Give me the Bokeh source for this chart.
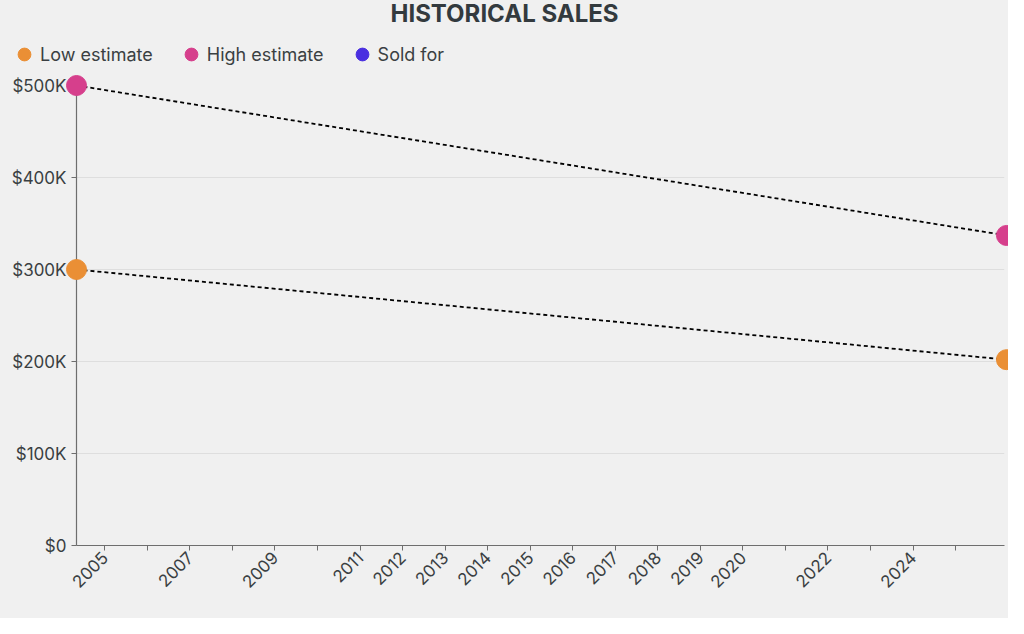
import math
from bokeh.plotting import figure
from bokeh.layouts import column
from bokeh.models import (FixedTicker, Legend, LegendItem, Label, CustomJSTickFormatter,
                          Range1d, ColumnDataSource)
from bokeh.embed import file_html
from bokeh.resources import INLINE

# ---- data ----
years = [2004.335, 2026.196]
low_estimate = [300000, 202000]
high_estimate = [500000, 337000]
sold_years = []          # no sale recorded
sold_for = []
series_names = ["Low estimate", "High estimate", "Sold for"]
x_ticks = list(range(2005, 2026))
x_tick_labels = {2005: "2005", 2006: "", 2007: "2007", 2008: "", 2009: "2009", 2010: "",
                 2011: "2011", 2012: "2012", 2013: "2013", 2014: "2014", 2015: "2015",
                 2016: "2016", 2017: "2017", 2018: "2018", 2019: "2019", 2020: "2020",
                 2021: "", 2022: "2022", 2023: "", 2024: "2024", 2025: ""}
y_ticks = [0, 100000, 200000, 300000, 400000, 500000]
x_end = 2026.15
title_text = "HISTORICAL SALES"

BG = "#f0f0f0"
TXT = "#3a3f42"
FONT = "Inter"
COLORS = ["#ea8f35", "#d63f8c", "#4a2fe0"]

W, H = 1008, 618
HEAD_H = 73
MAIN_H = H - HEAD_H

# ---------------- header: title + legend ----------------
head = figure(width=W, height=HEAD_H, output_backend="svg", toolbar_location=None,
              x_range=Range1d(0, 1), y_range=Range1d(0, 1),
              x_axis_type=None, y_axis_type=None,
              background_fill_color=BG, border_fill_color=BG,
              min_border=0, min_border_left=0, min_border_right=0,
              min_border_top=0, min_border_bottom=0)
head.outline_line_color = None
head.grid.visible = False
head.frame_align = False

legend_items = []
for name, col in zip(series_names, COLORS):
    r = head.scatter(x=[float("nan")], y=[float("nan")], size=13,
                     fill_color=col, line_color=col)
    legend_items.append(LegendItem(label=name, renderers=[r]))

legend = Legend(items=legend_items, orientation="horizontal", location=(8, 3),
                background_fill_alpha=0, border_line_color=None,
                label_text_font=FONT, label_text_font_size="18px", label_text_color=TXT,
                glyph_width=32, glyph_height=32, label_standoff=-13, spacing=22,
                padding=0, margin=0)
head.add_layout(legend, "center")

title = Label(x=504, y=HEAD_H - 13, x_units="screen", y_units="screen",
              text=title_text, text_align="center", text_baseline="middle",
              text_font=FONT, text_font_size="24px", text_font_style="bold",
              text_color="#333a3e")
head.add_layout(title)

# ---------------- main chart ----------------
p = figure(width=W, height=MAIN_H, output_backend="svg", toolbar_location=None,
           x_range=Range1d(years[0], x_end), y_range=Range1d(y_ticks[0], y_ticks[-1]),
           background_fill_color=BG, border_fill_color=BG,
           min_border_left=76, min_border_right=4, min_border_top=12, min_border_bottom=73)
p.outline_line_color = None
p.frame_align = False

src_low = ColumnDataSource(dict(x=years, y=low_estimate))
src_high = ColumnDataSource(dict(x=years, y=high_estimate))
src_sold = ColumnDataSource(dict(x=sold_years, y=sold_for))

p.line("x", "y", source=src_low, line_color="black", line_width=1.8, line_dash="4 3")
p.line("x", "y", source=src_high, line_color="black", line_width=1.8, line_dash="4 3")
for src, col in zip([src_low, src_high, src_sold], COLORS):
    p.scatter("x", "y", source=src, size=20, fill_color=col, line_color=col, level="overlay")

p.xaxis.ticker = FixedTicker(ticks=x_ticks)
p.xaxis.major_label_overrides = {k: v for k, v in x_tick_labels.items()}
p.xaxis.major_label_orientation = math.pi / 4
p.yaxis.ticker = FixedTicker(ticks=y_ticks)
p.yaxis.formatter = CustomJSTickFormatter(code="return tick == 0 ? '$0' : '$' + (tick/1000) + 'K';")
for ax in (p.xaxis, p.yaxis):
    ax.axis_line_color = "#6e6e6e"
    ax.axis_line_width = 1.2
    ax.major_tick_line_color = "#6e6e6e"
    ax.major_tick_in = 0
    ax.major_tick_out = 5
    ax.minor_tick_line_color = None
    ax.major_label_text_font = FONT
    ax.major_label_text_font_size = "17px"
    ax.major_label_text_color = TXT
p.yaxis.major_label_standoff = 5
p.xaxis.major_label_standoff = 4

p.xgrid.grid_line_color = None
p.ygrid.grid_line_color = "#dedede"
p.ygrid.grid_line_width = 1

layout = column(head, p, spacing=0, styles={"background-color": BG})
open("out.html", "w").write(file_html(layout, INLINE))
